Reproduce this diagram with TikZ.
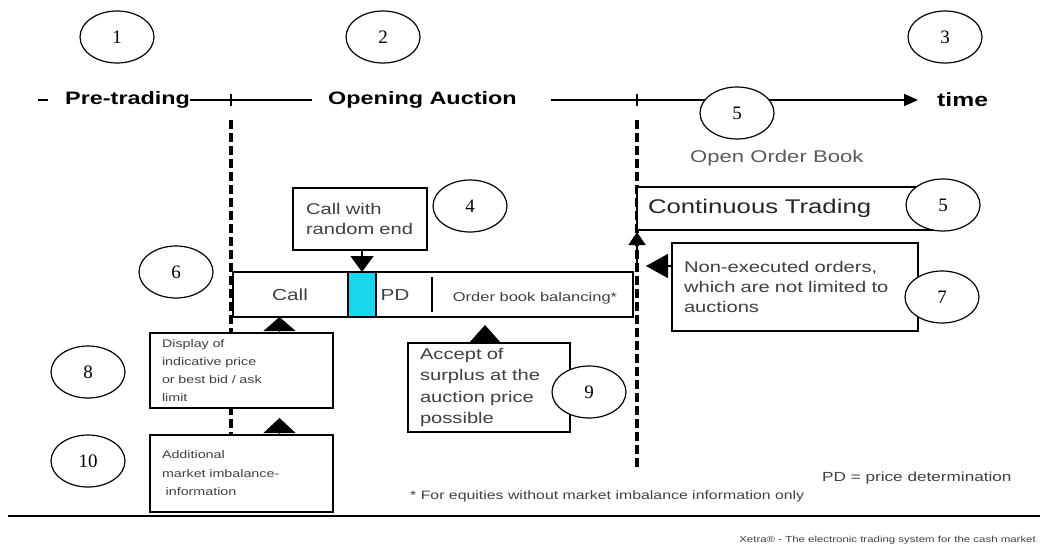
\documentclass[tikz,border=0pt]{standalone}
\usepackage{fontspec}
\setmainfont{Liberation Sans}
\newfontfamily\wsans[FakeStretch=1.3]{Liberation Sans}
\newfontfamily\numfont{Liberation Serif}
\usetikzlibrary{shapes.geometric,arrows.meta}
\definecolor{pdcyan}{RGB}{24,214,236}
\begin{document}
\begin{tikzpicture}[x=1pt,y=-1pt,
  num/.style={ellipse,draw,line width=1.2pt,fill=white,minimum width=74pt,
    minimum height=52pt,inner sep=0pt,font=\numfont\fontsize{19}{19}\selectfont},
  lbl/.style={font=\wsans\bfseries\fontsize{18}{20}\selectfont,inner sep=0pt},
  infobox/.style={draw,line width=1.5pt,fill=white,anchor=north west,outer sep=0pt,
    align=left,inner ysep=0pt,text=black!75},
  guide/.style={line width=4pt,dash pattern=on 9pt off 4pt},
  small/.style={font=\wsans\fontsize{#1}{#1}\selectfont,inner sep=0pt,text=black!75},
]
\useasboundingbox (0,0) rectangle (1040,549);

% time axis
\node[lbl,anchor=west] (pre) at (65,100) {Pre-trading};
\node[lbl,anchor=west] (oa) at (328,100) {Opening Auction};
\node[lbl,anchor=west,font=\wsans\bfseries\fontsize{19}{20}\selectfont] (time) at (937,100) {time};
\coordinate (a0) at (38,100);
\coordinate (a1) at (48,100);
\coordinate (tick1) at (231,100);
\coordinate (tick2) at (637,100);
\coordinate (a2) at (551,100);
\draw[line width=2pt] (a0) -- (a1);
\draw[line width=2pt] (pre.east) -- ([xshift=-16pt]oa.west);
\draw[line width=2pt,-{Triangle[length=14pt,width=12pt]}] (a2) -- ([xshift=-19pt]time.west);
\draw[line width=1.5pt] ([yshift=-6pt]tick1) -- ([yshift=6pt]tick1);
\draw[line width=1.5pt] ([yshift=-6pt]tick2) -- ([yshift=6pt]tick2);

% phase boundaries
\coordinate (g1top) at (231,120);
\coordinate (g1bot) at (231,470);
\coordinate (g2top) at (637,120);
\coordinate (g2bot) at (637,470);
\draw[guide] (g1top) -- (g1bot);
\draw[guide] (g2top) -- (g2bot);

\node[small=17,anchor=west,text=black!65] (oob) at (690,158) {Open Order Book};

% continuous trading
\node[infobox,text=black!85,minimum height=43pt,text width=281pt,inner xsep=11pt,
  font=\wsans\fontsize{19.8}{22}\selectfont] (ct) at (637,187) {Continuous Trading};

% auction bar
\node[draw,line width=1.5pt,fill=white,anchor=north west,outer sep=0pt,
  minimum width=400pt,minimum height=45pt,inner sep=0pt] (bar) at (233,272) {};
\node[draw,line width=2.5pt,fill=pdcyan,anchor=north west,outer sep=0pt,
  minimum width=28pt,minimum height=45pt,inner sep=0pt] (pdcell) at (348,272) {};
\node[small=16] (call) at (290,295) {Call};
\node[small=16] (pd) at (395,295) {PD};
\draw[line width=2.5pt] (432,277) -- (432,312);
\node[small=12.7] (obb) at (535,298) {Order book balancing*};

% explanation boxes
\node[infobox,minimum height=62pt,text width=108pt,inner xsep=13pt,
  font=\wsans\fontsize{15.5}{20}\selectfont] (rnd) at (293,188) {Call with\\random end};
\node[infobox,minimum height=88pt,text width=222pt,inner xsep=12pt,
  font=\wsans\fontsize{15.5}{20}\selectfont] (nex) at (672,243)
  {Non-executed orders,\\which are not limited to\\auctions};
\node[infobox,minimum height=75pt,text width=159pt,inner xsep=12pt,
  font=\wsans\fontsize{11}{18}\selectfont] (ind) at (150,333)
  {Display of\\indicative price\\or best bid / ask\\limit};
\node[infobox,minimum height=77pt,text width=159pt,inner xsep=12pt,
  font=\wsans\fontsize{11}{18.5}\selectfont] (imb) at (150,435)
  {Additional\\market imbalance-\\\ information};
\node[infobox,minimum height=89pt,text width=138pt,inner xsep=12pt,
  font=\wsans\fontsize{15.5}{21.5}\selectfont] (acc) at (408,343)
  {Accept of\\surplus at the\\auction price\\possible};

% connectors
\draw[-{Triangle[length=16pt,width=23pt]},line width=1.5pt] (rnd.south -| pdcell) -- (pdcell.north);
\draw[-{Triangle[length=14pt,width=32pt]},line width=1.5pt]
  ([xshift=38pt]ind.north) -- ([xshift=38pt]ind.north |- bar.south);
\draw[-{Triangle[length=15pt,width=32pt]},line width=1.5pt,shorten >=10pt]
  ([xshift=38pt]imb.north) -- ([xshift=38pt]imb.north |- ind.south);
\draw[-{Triangle[length=17pt,width=30pt]},line width=1.5pt,shorten >=8pt]
  ([xshift=-4pt]acc.north) -- ([xshift=-4pt]acc.north |- bar.south);
\draw[-{Triangle[length=13pt,width=17pt]},line width=2pt,shorten >=2pt]
  (bar.north east -| ct.south west) -- (ct.south west);
\draw[-{Triangle[length=22pt,width=24pt]},line width=1.5pt,shorten >=9pt]
  ([yshift=21pt]nex.west) -- ([yshift=21pt]nex.west -| g2top);

% footnotes
\node[small=13.2,anchor=west] (pdnote) at (822,478) {PD = price determination};
\node[small=12.2,anchor=west] (star) at (410,496) {* For equities without market imbalance information only};
\coordinate (r0) at (8,516);
\coordinate (r1) at (1040,516);
\draw[line width=2pt] (r0) -- (r1);
\node[small=8.8,anchor=east] (xetra) at (1036,540) {Xetra® - The electronic trading system for the cash market};

% numbered markers
\node[num] (n1) at (117,37) {1};
\node[num] (n2) at (383,37) {2};
\node[num] (n3) at (945,37) {3};
\node[num] (n5a) at (737,113) {5};
\node[num] (n4) at (470,206) {4};
\node[num] (n5b) at (943,205) {5};
\node[num] (n6) at (176,272) {6};
\node[num] (n7) at (942,297) {7};
\node[num] (n8) at (88,372) {8};
\node[num] (n9) at (589,392) {9};
\node[num] (n10) at (88,461) {10};
\end{tikzpicture}
\end{document}
